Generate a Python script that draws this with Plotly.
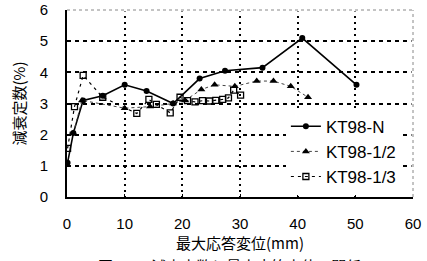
import plotly.graph_objects as go

# data
x_n = [0.1, 1.1, 2.8, 6.2, 10.0, 13.8, 18.4, 23.0, 27.4, 33.9, 40.8, 50.2]
y_n = [1.1, 2.05, 3.1, 3.25, 3.6, 3.4, 3.0, 3.8, 4.05, 4.15, 5.1, 3.6]

x_half = [1.1, 2.6, 10.0, 14.4, 18.4, 20.5, 23.3, 25.6, 29.1, 32.9, 35.8, 38.8, 41.8]
y_half = [2.05, 3.1, 2.85, 2.9, 3.0, 3.1, 3.45, 3.6, 3.55, 3.72, 3.72, 3.55, 3.2]

x_third = [0.1, 1.3, 2.8, 6.2, 12.1, 14.2, 15.5, 17.9, 19.6, 20.9, 22.2, 23.5, 24.7, 25.8, 27.0, 28.0, 28.9, 30.1]
y_third = [1.56, 2.9, 3.9, 3.2, 2.68, 3.13, 2.97, 2.7, 3.2, 3.09, 3.05, 3.09, 3.08, 3.1, 3.13, 3.18, 3.43, 3.27]

names = ["KT98-N", "KT98-1/2", "KT98-1/3"]
x_ticks = [0, 10, 20, 30, 40, 50, 60]
y_ticks = [0, 1, 2, 3, 4, 5, 6]

FONT = "Liberation Sans, Arial, sans-serif"
CJK = "Noto Sans CJK JP, sans-serif"

fig = go.Figure()
fig.add_trace(go.Scatter(
    x=x_n, y=y_n, name=names[0], mode="lines+markers", legendgroup="a",
    line=dict(color="black", width=1.6),
    marker=dict(symbol="circle", size=6, color="black")))
fig.add_trace(go.Scatter(
    x=x_half, y=y_half, name=names[1], mode="lines+markers", legendgroup="b",
    line=dict(color="#444444", width=1, dash="dot"),
    marker=dict(symbol="triangle-up", size=7, color="black")))
fig.add_trace(go.Scatter(
    x=x_third, y=y_third, name=names[2], mode="lines+markers", legendgroup="c",
    line=dict(color="black", width=1.2, dash="3px,4px"),
    marker=dict(symbol="square-open", size=6, color="black", line=dict(width=1.3))))

fig.update_layout(
    width=427, height=261,
    margin=dict(l=67, r=14, t=10, b=64, autoexpand=False),
    paper_bgcolor="white", plot_bgcolor="white",
    font=dict(family=FONT, color="black", size=15),
    legend=dict(
        x=0.965, y=0.012, xanchor="right", yanchor="bottom",
        bgcolor="white", bordercolor="#999999", borderwidth=0,
        font=dict(family=FONT, size=17), tracegroupgap=2,
        traceorder="normal"),
    xaxis=dict(
        range=[0, 60], tickvals=x_ticks, ticktext=[str(v) for v in x_ticks],
        showline=True, linecolor="black", linewidth=2,
        showgrid=True, gridcolor="black", gridwidth=1.5, griddash="2px,4px",
        ticks="inside", ticklen=3, tickcolor="black",
        ticklabelstandoff=12, zeroline=False, automargin=False,
        tickfont=dict(family=FONT, size=15),
        title=dict(text="最大応答変位(mm)", font=dict(family=CJK, size=15), standoff=6)),
    yaxis=dict(
        range=[0, 6], tickvals=y_ticks, ticktext=[str(v) for v in y_ticks],
        showline=True, linecolor="black", linewidth=2,
        showgrid=True, gridcolor="black", gridwidth=1.5, griddash="4px,4px",
        ticks="", ticklabelstandoff=14, zeroline=False, automargin=False,
        tickfont=dict(family=FONT, size=15),
        title=dict(text="減衰定数(%)", font=dict(family=CJK, size=15), standoff=10)),
    shapes=[
        dict(type="line", xref="paper", yref="paper", x0=0, x1=1, y0=1, y1=1,
             line=dict(color="white", width=3), layer="above"),
        dict(type="line", xref="paper", yref="paper", x0=1, x1=1, y0=0, y1=1,
             line=dict(color="white", width=3), layer="above"),
        dict(type="line", xref="paper", yref="paper", x0=0, x1=1, y0=1, y1=1,
             line=dict(color="#888888", width=1, dash="dot"), layer="above"),
        dict(type="line", xref="paper", yref="paper", x0=1, x1=1, y0=0, y1=1,
             line=dict(color="#888888", width=1, dash="dot"), layer="above"),
    ],
    annotations=[
        dict(text="図－5　減衰定数と最大応答変位の関係", xref="paper", yref="paper",
             x=0.47, y=-0.30, xanchor="center", yanchor="top", showarrow=False,
             font=dict(family=CJK, size=15, color="black")),
    ],
)

fig.write_html("out.html", config={"displayModeBar": False},
               post_script="document.body.style.margin='0';")
